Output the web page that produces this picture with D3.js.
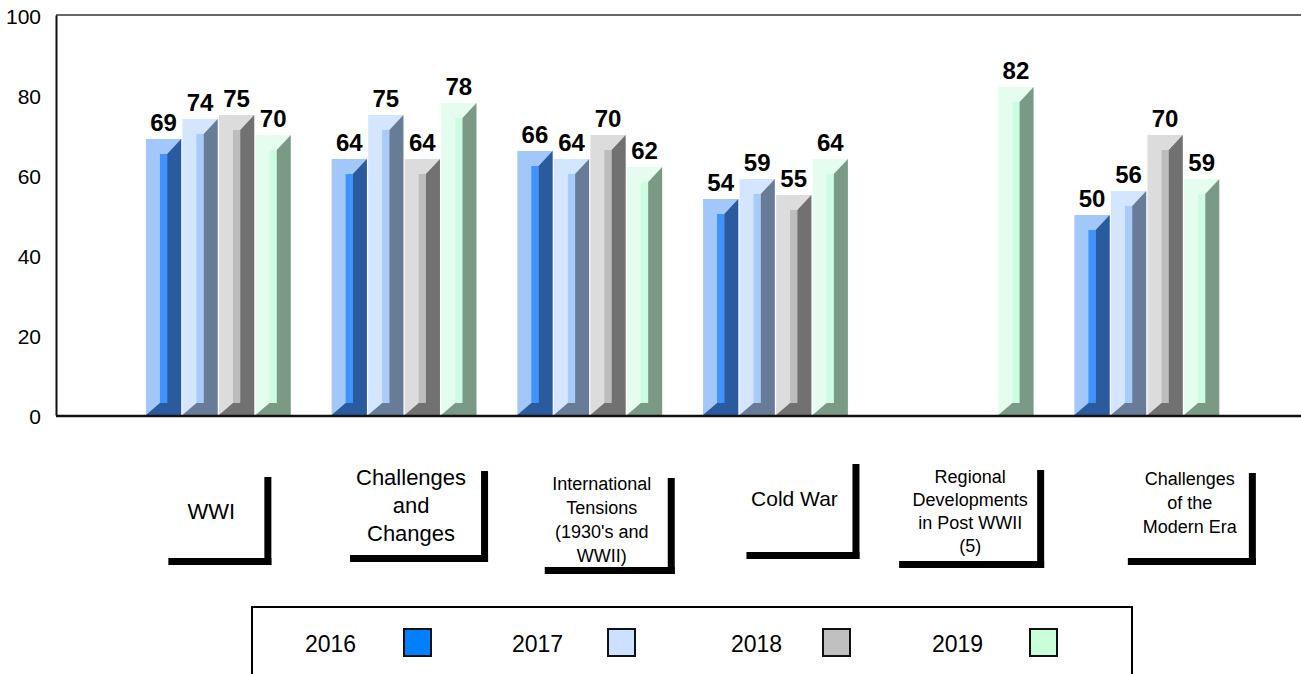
<!DOCTYPE html>
<meta charset="utf-8">
<style>
    body { margin: 0; background: #fff; }
    svg { font-family: "Liberation Sans", Arial, sans-serif; }
    .value { font-weight: bold; font-size: 24px; fill: #000; }
    .axis-y text { font-size: 21px; fill: #000; }
    .cat text { fill: #000; }
    .legend text { font-size: 23px; fill: #000; }
</style>
<body>
<script src="https://d3js.org/d3.v7.min.js"></script>
<script>

// data
var categories = ["WWI", "Challenges and Changes", "International Tensions (1930's and WWII)",
    "Cold War", "Regional Developments in Post WWII (5)", "Challenges of the Modern Era"];
var years = ["2016", "2017", "2018", "2019"];
var values2016 = [69, 64, 66, 54, null, 50];
var values2017 = [74, 75, 64, 59, null, 56];
var values2018 = [75, 64, 70, 55, null, 70];
var values2019 = [70, 78, 62, 64, 82, 59];
var yTicks = [0, 20, 40, 60, 80, 100];
var catLines = [
    ["WWI"],
    ["Challenges", "and", "Changes"],
    ["International", "Tensions", "(1930's and", "WWII)"],
    ["Cold War"],
    ["Regional", "Developments", "in Post WWII", "(5)"],
    ["Challenges", "of the", "Modern Era"]
];

// styles / layout
var legendColors = ["#0080ff", "#cce0ff", "#c0c0c0", "#c8ffd9"];
var faceColors  = ["#a2c8fb", "#d4e5ff", "#dcdcdc", "#e4fdee"];
var innerColors = ["#3f93ff", "#a9cbf8", "#bdbdbd", "#cdfde0"];
var darkColors  = ["#2a5b9e", "#687c98", "#717171", "#7b9a86"];

// label boxes, offsets from band centre
var catLayout = [
    {fs: 22, lh: 28, dx: -7,  y0: 519,   left: -50, right: 53,  top: 477, bottom: 565},
    {fs: 22, lh: 28, dx: 7,   y0: 485,   left: -54, right: 84,  top: 471, bottom: 562},
    {fs: 18, lh: 24.3, dx: 12, y0: 489.5, left: -45, right: 85, top: 478, bottom: 574},
    {fs: 21, lh: 24, dx: 19,  y0: 505.5, left: -29, right: 84,  top: 464, bottom: 559},
    {fs: 18, lh: 23, dx: 9,   y0: 482.5, left: -62, right: 83,  top: 470, bottom: 568},
    {fs: 18, lh: 24, dx: 43,  y0: 484.5, left: -19, right: 109, top: 473, bottom: 565}
];
var legendTextX = [305, 512, 731, 932];
var legendBoxX = [403, 607, 822, 1029];

var width = 1301, height = 674;
var plotLeft = 56, plotRight = 1301;

var svg = d3.select("body").append("svg")
    .attr("width", width)
    .attr("height", height);

var series = [values2016, values2017, values2018, values2019];

var x0 = d3.scaleBand().domain(d3.range(categories.length))
    .range([125.5, 1239.7]).paddingInner(0.22).paddingOuter(0.11);
var x1 = d3.scaleBand().domain(d3.range(years.length))
    .range([0, x0.bandwidth()]).paddingInner(0.035).paddingOuter(0);
var y = d3.scaleLinear().domain([0, 100]).range([415, 15]);

// frame
svg.append("line").attr("x1", plotLeft).attr("x2", plotRight)
    .attr("y1", y(100)).attr("y2", y(100))
    .attr("stroke", "#333").attr("stroke-width", 1.5);

// y axis
var yAxis = svg.append("g")
    .attr("class", "axis-y")
    .attr("transform", "translate(" + plotLeft + ",0)")
    .call(d3.axisLeft(y).tickValues(yTicks).tickSize(0).tickPadding(15));
yAxis.select(".domain").attr("stroke", "#111").attr("stroke-width", 2);
yAxis.selectAll("text")
    .attr("font-family", "Liberation Sans, Arial, sans-serif")
    .attr("y", 2);

// bars
var depth = 14, topDrop = 15, botRise = 12;
var barData = [];
categories.forEach(function(c, i) {
    series.forEach(function(s, j) {
        if (s[i] != null) barData.push({cat: i, year: j, value: s[i]});
    });
});

var bars = svg.append("g").selectAll("g")
    .data(barData).enter().append("g");

bars.each(function(d) {
    var g = d3.select(this);
    var xa = x0(d.cat) + x1(d.year);
    var xb = xa + x1.bandwidth();
    var yt = y(d.value), yb = y(0);
    g.append("rect")
        .attr("x", xa).attr("y", yt)
        .attr("width", xb - xa).attr("height", yb - yt)
        .attr("fill", faceColors[d.year]);
    g.append("rect")
        .attr("x", xa + depth).attr("y", yt + topDrop)
        .attr("width", xb - xa - 2 * depth).attr("height", yb - yt - topDrop - botRise)
        .attr("fill", innerColors[d.year]);
    g.append("path")
        .attr("d", "M" + (xb - depth) + "," + (yt + topDrop) +
            "L" + xb + "," + yt +
            "L" + xb + "," + yb +
            "L" + xa + "," + yb +
            "L" + (xa + depth) + "," + (yb - botRise) +
            "L" + (xb - depth) + "," + (yb - botRise) + "Z")
        .attr("fill", darkColors[d.year]);
    g.append("text")
        .attr("class", "value")
        .attr("x", (xa + xb) / 2)
        .attr("y", yt - 8)
        .attr("text-anchor", "middle")
        .text(d.value);
});

// x axis line
svg.append("line").attr("x1", plotLeft).attr("x2", plotRight)
    .attr("y1", y(0) + 1).attr("y2", y(0) + 1)
    .attr("stroke", "#111").attr("stroke-width", 2.5);

// category labels with bracket boxes
var cats = svg.append("g").attr("class", "cat").selectAll("g")
    .data(categories).enter().append("g");

cats.each(function(c, i) {
    var g = d3.select(this);
    var L = catLayout[i];
    var cx = x0(i) + x0.bandwidth() / 2;
    var t = g.append("text")
        .attr("text-anchor", "middle")
        .attr("font-size", L.fs + "px");
    catLines[i].forEach(function(line, k) {
        t.append("tspan")
            .attr("x", cx + L.dx)
            .attr("y", L.y0 + k * L.lh)
            .text(line);
    });
    g.append("rect")
        .attr("x", cx + L.left).attr("y", L.bottom - 7)
        .attr("width", L.right - L.left).attr("height", 7)
        .attr("fill", "#000");
    g.append("rect")
        .attr("x", cx + L.right - 7).attr("y", L.top)
        .attr("width", 7).attr("height", L.bottom - L.top)
        .attr("fill", "#000");
});

// legend
var legend = svg.append("g").attr("class", "legend");
legend.append("rect")
    .attr("x", 252).attr("y", 607)
    .attr("width", 880).attr("height", 120)
    .attr("fill", "none").attr("stroke", "#000").attr("stroke-width", 2);

years.forEach(function(yr, j) {
    legend.append("text")
        .attr("x", legendTextX[j]).attr("y", 652)
        .text(yr);
    legend.append("rect")
        .attr("x", legendBoxX[j] + 1).attr("y", 629)
        .attr("width", 27).attr("height", 27)
        .attr("fill", legendColors[j])
        .attr("stroke", "#111").attr("stroke-width", 2);
});

</script>
</body>
